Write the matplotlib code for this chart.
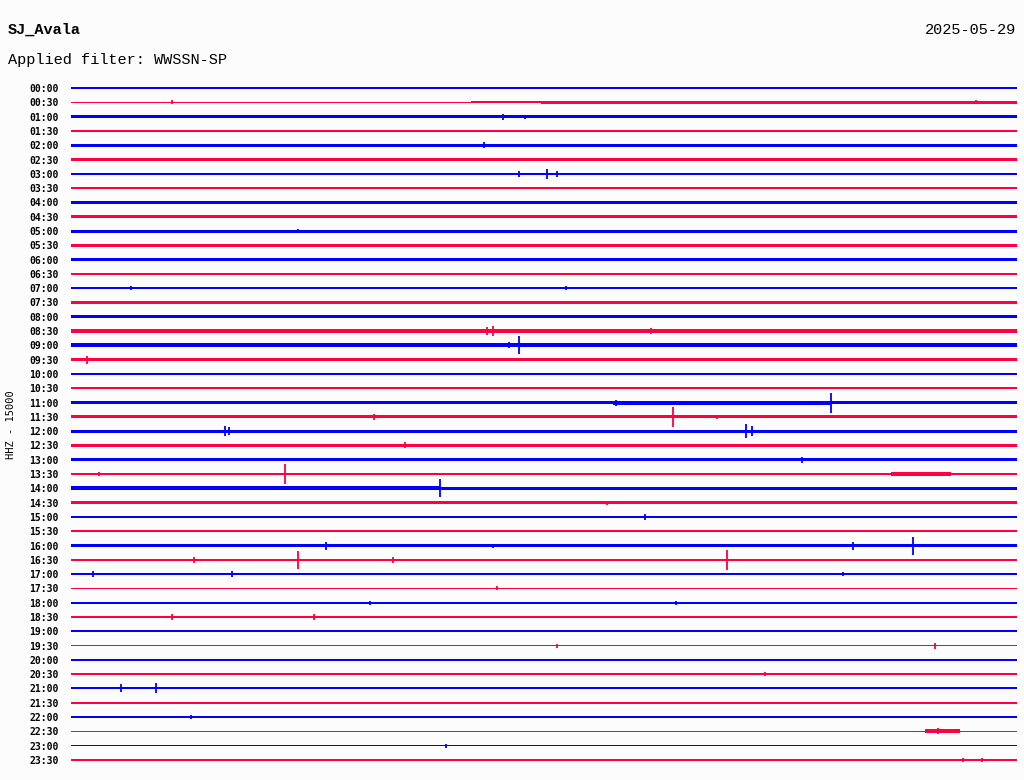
import numpy as np
import matplotlib
matplotlib.use("Agg")
import matplotlib.pyplot as plt

estacion = "SJ_Avala"
fecha = "2025-05-29"
filtro = "Applied filter: WWSSN-SP"
canal = "HHZ - 15000"

horas = ["%02d:%02d" % (h, m) for h in range(24) for m in (0, 30)]

# ruido de fondo por traza (media anchura, en pixeles aprox.)
ruido = [1.0, 0.6, 1.2, 1.2, 1.6, 1.4, 1.3, 1.3, 1.3, 1.3, 1.5, 1.3,
         1.5, 1.3, 1.2, 1.3, 1.5, 2.0, 1.9, 1.4, 1.2, 1.0, 1.4, 1.4,
         1.4, 1.3, 1.4, 1.4, 1.2, 1.2, 1.3, 1.0, 1.3, 1.2, 1.0, 0.9,
         1.2, 1.0, 0.9, 0.8, 1.0, 0.8, 1.0, 1.0, 1.2, 0.6, 0.8, 1.2]

# tramos con mas ruido: (traza, minuto inicio, minuto fin, amplitud)
tramos = [
    (1, 12.7, 30.0, 1.1),
    (1, 14.9, 30.0, 1.5),
    (17, 0.3, 30.0, 2.2),
    (22, 17.2, 24.1, 2.0),
    (27, 26.0, 27.9, 2.0),
    (28, 0.0, 11.7, 2.1),
    (32, 8.1, 30.0, 1.6),
    (45, 27.1, 28.2, 2.0),
]

# eventos (traza, minuto, amplitud en pixeles)
eventos = [
    (1, 3.2, 2), (1, 28.7, 2),
    (2, 13.7, 3), (2, 14.4, 2),
    (4, 13.1, 3),
    (6, 15.1, 5), (6, 14.2, 3), (6, 15.4, 3),
    (10, 7.2, 2),
    (14, 1.9, 2), (14, 15.7, 2),
    (17, 13.4, 5), (17, 13.2, 4), (17, 18.4, 3),
    (18, 14.2, 9), (18, 13.9, 3),
    (19, 0.5, 4),
    (22, 24.1, 10), (22, 17.3, 3),
    (23, 19.1, 10), (23, 9.6, 3), (23, 20.5, 2),
    (24, 4.9, 5), (24, 5.0, 4), (24, 21.4, 7), (24, 21.6, 5),
    (25, 10.6, 3),
    (26, 23.2, 3),
    (27, 6.8, 10), (27, 0.9, 2),
    (28, 11.7, 9),
    (29, 17.0, 2),
    (30, 18.2, 3),
    (32, 8.1, 4), (32, 24.8, 4), (32, 26.7, 9), (32, 13.4, 2),
    (33, 7.2, 9), (33, 20.8, 10), (33, 3.9, 3), (33, 10.2, 3),
    (34, 0.7, 3), (34, 5.1, 3), (34, 24.5, 2),
    (35, 13.5, 2),
    (36, 9.5, 2), (36, 19.2, 2),
    (37, 7.7, 3), (37, 3.2, 3),
    (39, 15.4, 2), (39, 27.4, 3),
    (41, 22.0, 2),
    (42, 1.6, 4), (42, 2.7, 5),
    (44, 3.8, 2),
    (45, 27.5, 3),
    (46, 11.9, 2),
    (47, 28.3, 2), (47, 28.9, 2),
]

colores = ["#0000ff", "#ff0040"]
px = 1 / 14.3  # un pixel en unidades de traza

fig = plt.figure(figsize=(10.24, 7.8), dpi=100, facecolor="#fcfcfc")
ax = fig.add_axes([0.0693, 0.0165, 0.9237, 0.8798])
ax.set_facecolor("#fcfcfc")

t = np.array([0.0, 30.0])
for i, r in enumerate(ruido):
    c = colores[i % 2]
    ax.fill_between(t, i - r * px, i + r * px, color=c, lw=0)
for (i, t0, t1, a) in tramos:
    c = colores[i % 2]
    ax.fill_between([t0, t1], i - a * px, i + a * px, color=c, lw=0)
for (i, tm, a) in eventos:
    c = colores[i % 2]
    ax.vlines(tm, i - a * px, i + a * px, color=c, lw=1.3)

ax.set_xlim(0, 30)
ax.set_ylim(47.5, -0.5)
ax.set_yticks(range(len(horas)))
ax.set_yticklabels(horas, family="DejaVu Sans Mono", fontsize=7,
                   fontweight="bold")
ax.tick_params(axis="y", length=0, pad=9)
ax.set_xticks([])
for s in ax.spines.values():
    s.set_visible(False)

fig.text(0.008, 0.962, estacion, family="Liberation Mono", fontsize=11,
         fontweight="bold", va="center")
fig.text(0.992, 0.962, fecha, family="Liberation Mono", fontsize=11,
         ha="right", va="center")
fig.text(0.008, 0.923, filtro, family="Liberation Mono", fontsize=11,
         va="center")
fig.text(0.011, 0.455, canal, family="DejaVu Sans Mono", fontsize=7.5,
         rotation=90, ha="center", va="center")

fig.savefig("out.png", dpi=100, facecolor=fig.get_facecolor())
